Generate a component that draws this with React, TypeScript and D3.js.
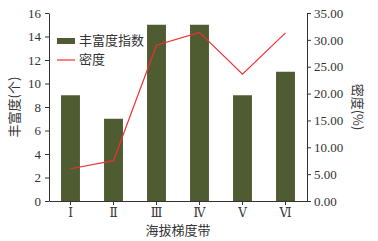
import * as d3 from 'd3';
import { useEffect, useRef } from 'react';

const categories = ['Ⅰ', 'Ⅱ', 'Ⅲ', 'Ⅳ', 'Ⅴ', 'Ⅵ'];
const richness = [9, 7, 15, 15, 9, 11];
const density = [6.0, 7.5, 29.0, 31.4, 23.6, 31.3];
const leftTicks = [0, 2, 4, 6, 8, 10, 12, 14, 16];
const rightTicks = [0, 5, 10, 15, 20, 25, 30, 35];

export default function App() {
  const ref = useRef<SVGSVGElement>(null);

  useEffect(() => {
    if (!ref.current) return;
    const svg = d3.select(ref.current);
    svg.selectAll('*').remove();

    const margin = { top: 13, right: 71, bottom: 40, left: 49 };
    const W = 378, H = 241;
    const width = W - margin.left - margin.right;
    const height = H - margin.top - margin.bottom;
    const serif = '"Liberation Serif", "Times New Roman", serif';
    const cjk = '"Noto Sans CJK SC", sans-serif';
    const axisColor = '#333';

    const g = svg.append('g').attr('transform', `translate(${margin.left},${margin.top})`);

    const x = d3.scaleBand().domain(categories).range([0, width]).paddingInner(0.56).paddingOuter(0.28);
    const yL = d3.scaleLinear().domain([0, 16]).range([height, 0]);
    const yR = d3.scaleLinear().domain([0, 35]).range([height, 0]);

    // bars
    g.selectAll('rect.bar')
      .data(richness)
      .join('rect')
      .attr('class', 'bar')
      .attr('x', (_, i) => x(categories[i]) ?? 0)
      .attr('width', x.bandwidth())
      .attr('y', (d) => yL(d))
      .attr('height', (d) => height - yL(d))
      .attr('fill', '#4f5c32');

    // line
    const line = d3
      .line<number>()
      .x((_, i) => (x(categories[i]) ?? 0) + x.bandwidth() / 2)
      .y((d) => yR(d));
    g.append('path')
      .datum(density)
      .attr('d', line)
      .attr('fill', 'none')
      .attr('stroke', '#f03030')
      .attr('stroke-width', 1.2);

    // axes
    const styleAxis = (sel: any) => {
      sel.selectAll('path').attr('stroke', axisColor);
      sel.selectAll('line').attr('stroke', axisColor);
      sel.selectAll('text').attr('font-family', serif).attr('font-size', 13).attr('fill', '#333');
    };

    g.append('g')
      .call(d3.axisLeft(yL).tickValues(leftTicks).tickSize(4).tickSizeOuter(0).tickPadding(4))
      .call(styleAxis);

    g.append('g')
      .attr('transform', `translate(${width},0)`)
      .call(
        d3.axisRight(yR).tickValues(rightTicks).tickSize(4).tickSizeOuter(0).tickPadding(3).tickFormat((d) => (d as number).toFixed(2)),
      )
      .call(styleAxis);

    g.append('g')
      .attr('transform', `translate(0,${height})`)
      .call(d3.axisBottom(x).tickSize(4).tickSizeOuter(0).tickPadding(3))
      .call(styleAxis)
      .call((sel: any) => sel.selectAll('text').attr('font-family', '"DejaVu Serif", serif').attr('font-size', 12));

    // axis titles
    g.append('text')
      .attr('transform', `translate(${-34},${height / 2}) rotate(-90)`)
      .attr('text-anchor', 'middle')
      .attr('dominant-baseline', 'middle')
      .attr('font-family', cjk)
      .attr('font-size', 13)
      .attr('fill', '#333')
      .text('丰富度(个)');

    g.append('text')
      .attr('transform', `translate(${width + 50},${height / 2}) rotate(90)`)
      .attr('text-anchor', 'middle')
      .attr('dominant-baseline', 'middle')
      .attr('font-family', cjk)
      .attr('font-size', 13)
      .attr('fill', '#333')
      .text('密度(%)');

    g.append('text')
      .attr('x', width / 2)
      .attr('y', height + 34)
      .attr('text-anchor', 'middle')
      .attr('font-family', cjk)
      .attr('font-size', 13)
      .attr('fill', '#333')
      .text('海拔梯度带');

    // legend
    const legend = g.append('g').attr('transform', 'translate(8,25)');
    legend.append('rect').attr('x', 0).attr('y', 0).attr('width', 18).attr('height', 6).attr('fill', '#4f5c32');
    legend
      .append('text')
      .attr('x', 22)
      .attr('y', 3)
      .attr('dominant-baseline', 'middle')
      .attr('font-family', cjk)
      .attr('font-size', 13)
      .attr('fill', '#333')
      .text('丰富度指数');
    legend
      .append('line')
      .attr('x1', 0)
      .attr('x2', 18)
      .attr('y1', 22)
      .attr('y2', 22)
      .attr('stroke', '#f03030')
      .attr('stroke-width', 1.2);
    legend
      .append('text')
      .attr('x', 22)
      .attr('y', 22)
      .attr('dominant-baseline', 'middle')
      .attr('font-family', cjk)
      .attr('font-size', 13)
      .attr('fill', '#333')
      .text('密度');
  }, []);

  return (
    <svg
      ref={ref}
      width={378}
      height={241}
      style={{ position: 'absolute', left: 0, top: 0, background: '#fff' }}
    />
  );
}
